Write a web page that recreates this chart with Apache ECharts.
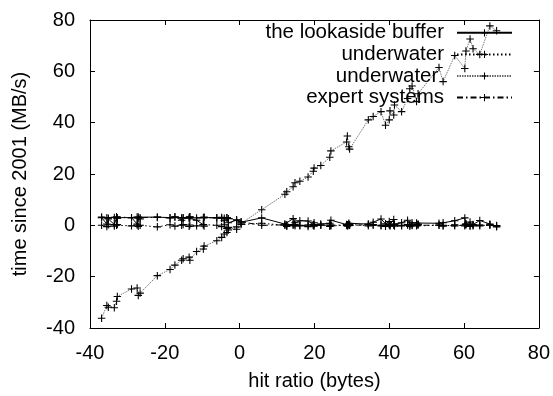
<!DOCTYPE html>
<html>
<head>
<meta charset="utf-8">
<script src="https://cdn.jsdelivr.net/npm/echarts@6/dist/echarts.min.js"></script>
<style>
  html, body { margin: 0; padding: 0; background: #fff; }
  #chart { width: 553px; height: 396px; }
</style>
</head>
<body>
<div id="chart"></div>
<script>
// shared x positions (hit ratio)
const hitRatio = [
  -36.9, -35.5, -35.1, -33.5, -32.9, -32.7, -28.9, -27.4, -27.1, -26.6,
  -22.0, -18.6, -17.3, -15.5, -15.1, -13.5, -13.3, -11.5, -9.7, -9.5,
  -6.1, -4.8, -4.1, -3.4, -3.0, -0.8, 0.4, 5.9, 12.1, 12.6,
  14.3, 14.8, 16.1, 18.3, 19.7, 19.9, 21.7, 24.1, 24.4, 28.6,
  28.8, 29.2, 29.4, 34.4, 35.7, 37.8, 39.0, 40.0, 40.2, 41.2,
  41.4, 43.3, 44.9, 45.5, 46.1, 47.3, 47.7, 53.3, 54.4, 57.5,
  60.2, 60.5, 61.6, 62.4, 64.2, 66.9, 68.7
];

const lookasideBuffer = [
  3.0, 0.5, 2.5, 0.3, 3.0, 2.8, 3.0, 0.5, 3.2, 2.5,
  3.2, 3.0, 3.3, 2.0, 3.0, 2.8, 3.2, 2.0, 0.2, 3.0,
  3.0, 2.8, 1.8, 3.0, 1.0, 2.0, 1.2, 2.9, 0.5, 0.2,
  2.6, 1.0, 1.8, 1.7, 0.3, 1.0, 0.5, 0.8, 2.0, 0.3,
  0.2, 0.8, 0.2, 0.5, 1.2, 2.5, 0.6, 1.5, 0.3, 2.3,
  0.4, 1.0, 2.0, 0.2, 1.0, 0.9, 0.5, 0.8, 1.0, 1.8,
  2.9, 0.6, 1.3, 0.3, 1.9, 0.5, -0.3
];

const underwaterA = [
  0.0, -0.5, 0.2, -0.3, 0.0, 0.3, -0.2, 0.1, -0.4, 0.0,
  -0.6, 0.2, -0.3, 0.0, 0.3, -0.4, 0.1, -0.2, 0.3, -0.3,
  0.0, -0.5, 0.2, -1.2, -0.8, -1.5, 0.3, 0.8, 0.0, -0.4,
  0.3, -0.2, 0.0, -0.5, 0.2, -0.3, 0.1, -0.4, 0.0, 0.2,
  -0.3, 0.4, 0.0, -0.2, 0.3, 0.0, -0.4, 0.2, -0.2, 0.5,
  -0.3, 0.0, 0.3, -0.4, 0.1, -0.2, 0.2, 0.0, -0.3, 0.2,
  -0.2, 0.3, -0.4, 0.1, -0.2, 0.2, -0.6
];

const underwaterB = [
  -36.2, -31.2, -31.9, -32.1, -29.6, -27.7, -24.8, -24.4, -27.3, -26.4,
  -19.6, -17.2, -15.5, -13.6, -13.0, -12.4, -13.6, -10.2, -9.2, -8.1,
  -6.0, -4.7, -3.4, -2.8, -1.8, -0.6, 0.8, 6.1, 12.1, 13.1,
  15.0, 16.6, 17.2, 18.8, 21.1, 22.3, 23.3, 26.5, 29.0, 32.5,
  34.8, 30.6, 29.7, 41.1, 42.4, 44.3, 39.0, 41.1, 44.6, 43.0,
  46.9, 44.3, 49.4, 53.2, 54.3, 48.2, 51.3, 61.5, 56.0, 66.2,
  61.1, 67.9, 72.6, 68.8, 66.6, 77.7, 75.8
];

const expertSystems = [
  3.2, 3.0, 2.8, 3.1, 3.3, 2.9, 3.0, 3.2, 2.8, 3.0,
  3.1, 2.9, 3.2, 3.0, 2.8, 3.1, 3.3, 2.9, 3.0, 3.2,
  2.9, 3.1, 2.8, 3.0, 2.6, 2.2, 1.4, 0.0, 0.2, -0.1,
  0.0, 0.3, -0.2, 0.1, -0.1, 0.2, 0.0, 0.1, -0.2, 0.0,
  0.2, -0.1, 0.1, 0.3, 0.0, -0.2, 0.1, 0.3, -0.1, 0.0,
  0.2, -0.2, 0.1, 0.3, -0.1, 0.0, 0.2, 0.1, 0.0, -0.2,
  0.1, 0.3, 0.0, -0.2, 0.1, 0.0, -0.1
];

const xTicks = { min: -40, max: 80, interval: 20 };
const yTicks = { min: -40, max: 80, interval: 20 };

const FONT = '"Liberation Sans", Arial, sans-serif';
// gnuplot style "+" point
const PLUS = 'path://M0,3H3V0H4V3H7V4H4V7H3V4H0Z';

function pairs(ys) {
  return hitRatio.map((x, i) => [x, ys[i]]);
}

function makeSeries(name, ys, lineStyle) {
  return {
    name,
    type: 'line',
    data: pairs(ys),
    symbol: PLUS,
    symbolSize: 7.5,
    itemStyle: { color: '#000' },
    lineStyle,
    animation: false,
  };
}

const axisCommon = {
  axisLine: { show: true, onZero: false, lineStyle: { color: '#000', width: 1 } },
  axisTick: { show: true, inside: true, length: 5, lineStyle: { color: '#000' } },
  splitLine: { show: false },
};

const chart = echarts.init(document.getElementById('chart'));
chart.setOption({
  backgroundColor: '#fff',
  textStyle: { fontFamily: FONT },
  grid: { left: 90, right: 14, top: 20, bottom: 62 },
  legend: {
    orient: 'vertical',
    right: 35,
    top: 17,
    align: 'right',
    itemWidth: 55,
    itemHeight: 9,
    itemGap: 0,
    selectedMode: false,
    textStyle: { fontSize: 20.5, color: '#000', lineHeight: 21.6, padding: [0, 8, 0, 0] },
  },
  xAxis: [
    Object.assign({
      type: 'value', ...xTicks,
      name: 'hit ratio (bytes)', nameLocation: 'middle', nameGap: 43,
      nameTextStyle: { fontSize: 20, color: '#000' },
      axisLabel: { fontSize: 20, color: '#000', margin: 15 },
    }, axisCommon),
    Object.assign({
      type: 'value', ...xTicks, position: 'top',
      axisLabel: { show: false },
    }, axisCommon),
  ],
  yAxis: [
    Object.assign({
      type: 'value', ...yTicks,
      name: 'time since 2001 (MB/s)', nameLocation: 'middle', nameGap: 60,
      nameTextStyle: { fontSize: 20, color: '#000' },
      axisLabel: { fontSize: 20, color: '#000', margin: 15 },
    }, axisCommon),
    Object.assign({
      type: 'value', ...yTicks, position: 'right',
      axisLabel: { show: false },
    }, axisCommon),
  ],
  series: [
    makeSeries('the lookaside buffer', lookasideBuffer, { color: '#000', width: 1, type: 'solid' }),
    makeSeries('underwater', underwaterA, { color: '#000', width: 1, type: [1.5, 2.5] }),
    makeSeries('underwater ', underwaterB, { color: '#666', width: 0.9, type: [1.5, 1] }),
    makeSeries('expert systems', expertSystems, { color: '#000', width: 1, type: [6, 3, 1.5, 3] }),
  ],
});
</script>
</body>
</html>
